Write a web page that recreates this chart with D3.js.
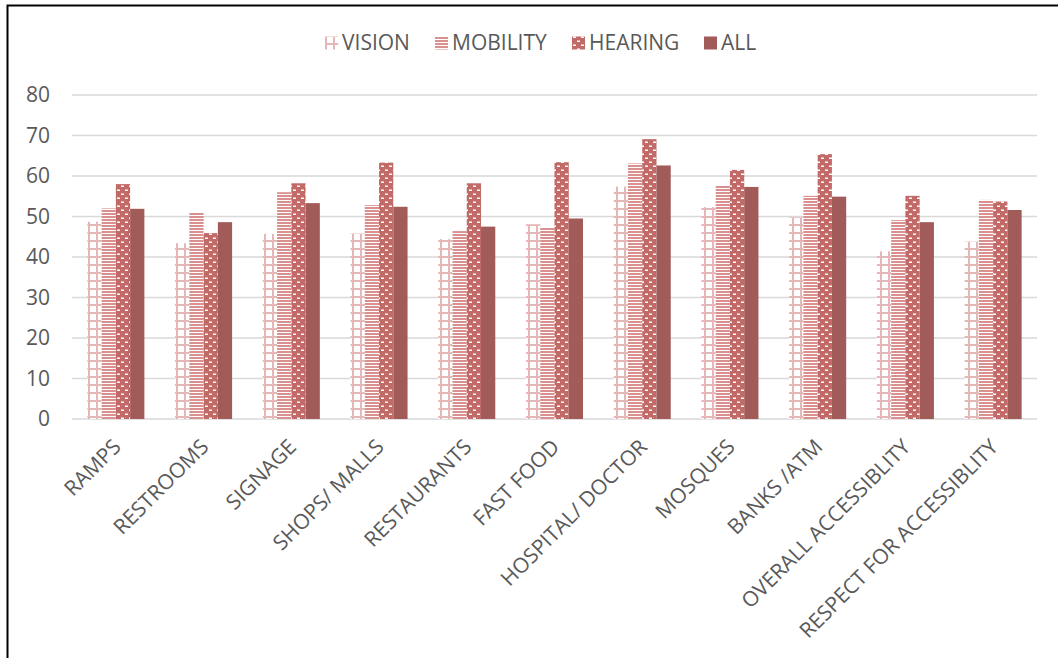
<!DOCTYPE html>
<html>
<head>
<meta charset="utf-8">
<script src="https://cdn.jsdelivr.net/npm/d3@7"></script>
<style>
  html, body { margin: 0; padding: 0; background: #fff; }
  svg { display: block; font-family: "Open Sans", sans-serif; }
</style>
</head>
<body>
<svg id="chart" width="1058" height="658"></svg>
<script>
// Accessibility ratings by disability group
const categories = ["RAMPS", "RESTROOMS", "SIGNAGE", "SHOPS/ MALLS", "RESTAURANTS", "FAST FOOD",
  "HOSPITAL/ DOCTOR", "MOSQUES", "BANKS /ATM", "OVERALL ACCESSIBLITY", "RESPECT FOR ACCESSIBLITY"];
const seriesNames = ["VISION", "MOBILITY", "HEARING", "ALL"];
const vision   = [48.7, 43.4, 45.7, 45.8, 44.4, 48.1, 57.4, 52.3, 49.8, 41.4, 43.8];
const mobility = [52.0, 51.1, 56.0, 52.8, 46.4, 47.3, 63.1, 57.6, 55.1, 49.1, 54.1];
const hearing  = [58.0, 45.9, 58.2, 63.3, 58.2, 63.4, 69.1, 61.5, 65.4, 55.1, 53.7];
const all      = [51.9, 48.6, 53.3, 52.4, 47.5, 49.5, 62.6, 57.3, 54.9, 48.6, 51.6];
const yTicks = [0, 10, 20, 30, 40, 50, 60, 70, 80];

const seriesValues = [vision, mobility, hearing, all];

const svg = d3.select("#chart");
const W = 1058, H = 658;
const plot = { left: 72, right: 1037, top: 95, bottom: 419 };
const FS = 21;

// Fill patterns for each series
const defs = svg.append("defs");
const cVision = "#e5b7b6", cMob = "#d9908e", cHear = "#c26a68", cAll = "#a15b59";

const pV = defs.append("pattern").attr("id", "pat-vision")
  .attr("patternUnits", "userSpaceOnUse").attr("width", 8).attr("height", 8);
pV.append("rect").attr("width", 8).attr("height", 8).attr("fill", "#fff");
pV.append("rect").attr("x", 0).attr("y", 0).attr("width", 2).attr("height", 8).attr("fill", cVision);
pV.append("rect").attr("x", 0).attr("y", 0).attr("width", 8).attr("height", 2).attr("fill", cVision);

const pM = defs.append("pattern").attr("id", "pat-mobility")
  .attr("patternUnits", "userSpaceOnUse").attr("width", 8).attr("height", 3);
pM.append("rect").attr("width", 8).attr("height", 3).attr("fill", "#fff");
pM.append("rect").attr("x", 0).attr("y", 0).attr("width", 8).attr("height", 2).attr("fill", cMob);

const pH = defs.append("pattern").attr("id", "pat-hearing")
  .attr("patternUnits", "userSpaceOnUse").attr("width", 8).attr("height", 8);
pH.append("rect").attr("width", 8).attr("height", 8).attr("fill", cHear);
pH.append("rect").attr("x", 1).attr("y", 1.5).attr("width", 3).attr("height", 1.5).attr("fill", "#fff");
pH.append("rect").attr("x", 5).attr("y", 5.5).attr("width", 3).attr("height", 1.5).attr("fill", "#fff");

const fills = ["url(#pat-vision)", "url(#pat-mobility)", "url(#pat-hearing)", cAll];

// Scales
const x = d3.scaleBand().domain(categories).range([plot.left, plot.right])
  .paddingInner(0.35).paddingOuter(0.175);
const xs = d3.scaleBand().domain(seriesNames).range([0, x.bandwidth()]).padding(0);
const y = d3.scaleLinear().domain([0, 80]).range([plot.bottom, plot.top]);

// Gridlines
svg.append("g").selectAll("line").data(yTicks).join("line")
  .attr("x1", plot.left).attr("x2", plot.right)
  .attr("y1", d => y(d)).attr("y2", d => y(d))
  .attr("stroke", "#d9d9d9").attr("stroke-width", 1.5);

// Y axis labels
const yAxis = d3.axisLeft(y).tickValues(yTicks).tickSize(0).tickPadding(0);
const gy = svg.append("g").attr("transform", `translate(50,0)`).call(yAxis);
gy.select(".domain").remove();
gy.selectAll("text").attr("font-size", FS).attr("fill", "#595959")
  .attr("font-family", "Open Sans, sans-serif");

// Bars
const groups = svg.append("g").selectAll("g").data(seriesNames).join("g")
  .attr("fill", (d, i) => fills[i]);
groups.selectAll("rect").data((s, i) => seriesValues[i].map((v, j) => ({ s, v, c: categories[j] })))
  .join("rect")
  .attr("x", d => x(d.c) + xs(d.s))
  .attr("width", xs.bandwidth())
  .attr("y", d => y(d.v))
  .attr("height", d => y(0) - y(d.v));

// X axis labels (rotated)
const xAxis = d3.axisBottom(x).tickSize(0).tickPadding(0);
const gx = svg.append("g").attr("transform", `translate(0,${plot.bottom})`).call(xAxis);
gx.select(".domain").remove();
gx.selectAll("text")
  .attr("font-size", FS).attr("fill", "#595959").attr("font-family", "Open Sans, sans-serif")
  .attr("text-anchor", "end")
  .attr("dy", "0.35em")
  .attr("transform", "translate(1,24) rotate(-45)");

// Legend
const legendItems = [
  { name: "VISION", x: 325 },
  { name: "MOBILITY", x: 435 },
  { name: "HEARING", x: 572 },
  { name: "ALL", x: 704 }
];
const lg = svg.append("g").selectAll("g").data(legendItems).join("g")
  .attr("transform", d => `translate(${d.x},43)`);
lg.append("rect").attr("x", 0).attr("y", -6.5).attr("width", 13).attr("height", 13)
  .attr("fill", (d, i) => fills[i]);
lg.append("text").attr("x", 17).attr("y", 0).attr("dy", "0.35em")
  .attr("font-size", FS).attr("fill", "#595959").text(d => d.name);

// Chart frame
svg.append("rect").attr("x", 7.5).attr("y", 5.5).attr("width", W + 20).attr("height", H + 20)
  .attr("fill", "none").attr("stroke", "#000").attr("stroke-width", 2);
</script>
</body>
</html>
